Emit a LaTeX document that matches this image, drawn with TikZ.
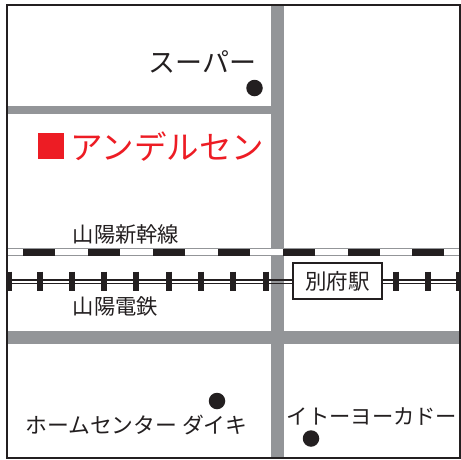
\documentclass[tikz,border=0pt]{standalone}
\usepackage{fontspec}
\newfontfamily\jpfont{Noto Sans CJK JP}
\definecolor{roadgray}{HTML}{939598}
\definecolor{inkblack}{HTML}{231F20}
\definecolor{shopred}{HTML}{ED1C24}
\tikzset{
  road/.style={fill=roadgray,draw=none},
  place/.style={circle,fill=inkblack,draw=none,minimum size=16.5pt,inner sep=0pt},
  lbl/.style={inner sep=0pt,text=inkblack,font=\jpfont\fontsize{#1}{#1}\selectfont},
  rail/.style={draw=inkblack,line width=1.4pt},
  tie/.style={draw=inkblack,line width=6pt},
  hsr/.style={fill=inkblack,draw=none}
}
\begin{document}
\begin{tikzpicture}[x=1pt,y=-1pt]
\useasboundingbox (0,0) rectangle (461,459);
\fill[white] (0,0) rectangle (461,459);
% roads
\fill[road] (271,5) rectangle (284,458);
\fill[road] (7,105.5) rectangle (271,113.5);
\fill[road] (7,330.5) rectangle (460,344);
% shinkansen
\fill[white] (7,249) rectangle (460,255);
\draw[roadgray,line width=1.2pt] (7,248.5) -- (460,248.5) (7,255.5) -- (460,255.5);
\foreach \s in {23,88,153,218,283,348,412}
  \fill[hsr] (\s,248.5) rectangle ++(32,7.5);
% railway
\draw[rail] (7,280) -- (460,280) (7,283.5) -- (460,283.5);
\foreach \x in {8.5,39.5,71.7,104,136,168.7,201,233,265.7,395.7,428,459}
  \draw[tie] (\x,271.5) -- (\x,291);
% frame
\draw[inkblack,line width=2.4pt] (7,5) rectangle (460,458);
% station
\node[draw=inkblack,fill=white,line width=2.2pt,minimum width=89pt,minimum height=36.5pt,inner sep=0pt,lbl=21.5] (station) at (337.5,281) {別府駅};
% places
\node[place] (super) at (254.5,88) {};
\node[place] (daiki) at (217,401) {};
\node[place] (ito) at (311,438.5) {};
\node[fill=shopred,minimum size=26pt,inner sep=0pt] (mark) at (51,146) {};
% labels
\node[lbl=27] (superlbl) at (202.5,62) {スーパー};
\node[lbl=32.5,text=shopred] (shop) at (167.5,147) {アンデルセン};
\node[lbl=21.3] (hsrlbl) at (126,234) {山陽新幹線};
\node[lbl=21.3] (raillbl) at (115.5,306.5) {山陽電鉄};
\node[lbl=21.8] (daikilbl) at (136.5,425.5) {ホームセンター ダイキ};
\node[lbl=21.3] (itolbl) at (372,416.5) {イトーヨーカドー};
\end{tikzpicture}
\end{document}
